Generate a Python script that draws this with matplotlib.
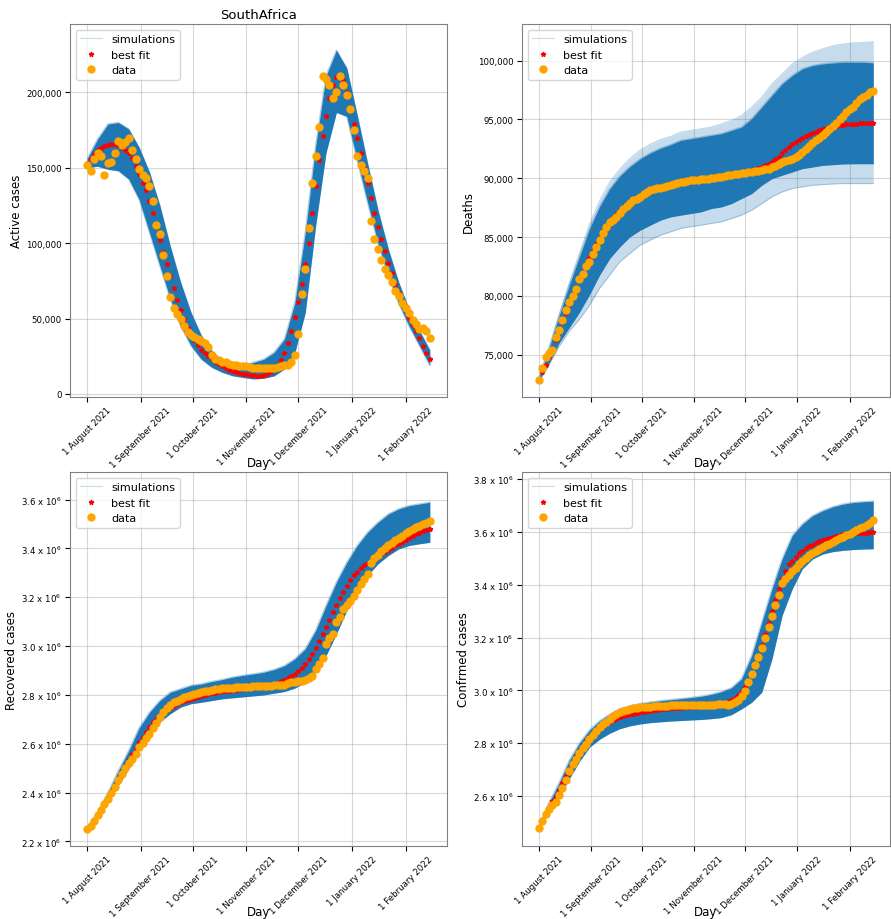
import numpy as np
import matplotlib
matplotlib.use("Agg")
import matplotlib.pyplot as plt
from matplotlib.lines import Line2D
from matplotlib.ticker import FuncFormatter

# observations every 2nd day, simulation envelope every 6th day, from 1 August 2021
start = np.datetime64("2021-08-01")
obs_days = np.arange(0, 199, 2)
sim_days = np.arange(0, 199, 6)
obs_dates = start + obs_days.astype("timedelta64[D]")
sim_dates = start + sim_days.astype("timedelta64[D]")

tick_dates = np.array(["2021-08-01", "2021-09-01", "2021-10-01", "2021-11-01",
                       "2021-12-01", "2022-01-01", "2022-02-01"], dtype="datetime64[D]")
tick_labels = ["1 August 2021", "1 September 2021", "1 October 2021", "1 November 2021",
               "1 December 2021", "1 January 2022", "1 February 2022"]

# active cases, thousands
active_data = [152, 148, 156, 160, 158, 145, 153, 154, 160, 168,
               165, 167, 170, 162, 156, 149, 145, 143, 138, 128,
               112, 106, 92, 78, 64, 57, 53, 50, 45, 41,
               39, 37.5, 36.5, 35, 33.5, 31, 26, 23, 22.5, 21.5,
               21, 20, 19.5, 19, 18.8, 18.8, 18.5, 18, 17, 17,
               17, 17, 17, 17.2, 17.5, 18, 18.8, 19, 19.5, 21,
               26, 40, 66, 83, 110, 140, 158, 177, 211, 209,
               205, 196, 200, 211, 205, 198, 189, 175, 158, 152,
               148, 143, 115, 103, 96, 89, 83, 79, 74, 68,
               65, 60, 57, 54, 49, 46.5, 43, 44, 42, 37]
active_fit = [153, 156, 159, 161.5, 163, 164.5, 165, 165.5, 165.5, 165,
              163, 161.5, 159.5, 156.5, 151, 146, 140, 135, 128, 120,
              111, 102, 94, 86, 78, 70, 62, 56, 50, 44,
              40, 36, 32.5, 29, 27, 25.5, 23.5, 21.5, 20, 18.8,
              17, 16, 15.2, 14.5, 13.9, 13.4, 13, 12.6, 12.3, 12.1,
              12.2, 12.7, 13.5, 14.8, 16.5, 19, 22.5, 27.5, 34, 42,
              51, 61, 73, 86, 100, 120, 138, 155, 171, 184,
              196, 205, 210, 211, 208, 200, 190, 179, 170, 160,
              150, 140, 130, 120, 111, 103, 95, 87, 80, 73,
              67, 61, 55.5, 50.5, 46, 42, 37, 32, 27.5, 23]
active_sim_lo = [150, 151, 149, 148, 142.5, 129, 107, 85, 63, 45, 32, 23, 17.7, 14.4, 12.1, 11, 10,
                 10.4, 12, 16.6, 27.6, 54, 111.6, 160, 186.7, 184, 155, 127, 100, 78, 60, 45, 32, 19]
active_sim_hi = [156, 169, 179, 180, 175.7, 163.5, 147, 125, 98, 74, 54, 38.7, 28.7, 22, 18.8, 18.8, 21,
                 23, 27.6, 36.5, 60.8, 107, 164.6, 211, 228, 216, 185, 153, 122, 96, 74, 56, 42, 29]

# deaths
deaths_data = [72880, 73870, 74800, 75120, 75450, 76500, 77150, 78000, 78800, 79450,
               80000, 80600, 81450, 81900, 82550, 82900, 83600, 84170, 84750, 85320,
               85890, 86250, 86470, 86750, 87050, 87380, 87650, 87900, 88130, 88230,
               88380, 88700, 88850, 88990, 89060, 89140, 89210, 89300, 89360, 89420,
               89510, 89570, 89650, 89710, 89760, 89830, 89850, 89880, 89910, 89940,
               89960, 90010, 90060, 90110, 90150, 90200, 90260, 90310, 90350, 90400,
               90450, 90490, 90520, 90560, 90600, 90650, 90700, 90750, 90810, 90920,
               91050, 91200, 91350, 91450, 91560, 91680, 91800, 91980, 92200, 92500,
               92750, 92980, 93220, 93450, 93700, 93950, 94200, 94450, 94720, 95000,
               95300, 95600, 95850, 96100, 96400, 96700, 96920, 97100, 97300, 97460]
deaths_fit = [72900, 73500, 74150, 74850, 75550, 76300, 77050, 77800, 78550, 79300,
              80000, 80700, 81350, 82000, 82650, 83250, 83850, 84400, 84950, 85450,
              85900, 86300, 86650, 86950, 87250, 87500, 87750, 87950, 88150, 88330,
              88500, 88650, 88790, 88910, 89020, 89120, 89210, 89290, 89370, 89440,
              89510, 89570, 89630, 89690, 89740, 89790, 89840, 89880, 89920, 89960,
              90000, 90040, 90080, 90120, 90160, 90200, 90250, 90300, 90350, 90410,
              90470, 90520, 90600, 90680, 90780, 90880, 90990, 91100, 91230, 91400,
              91600, 91850, 92150, 92400, 92650, 92880, 93080, 93260, 93420, 93580,
              93720, 93850, 93970, 94080, 94180, 94270, 94350, 94420, 94480, 94530,
              94570, 94600, 94620, 94640, 94650, 94660, 94670, 94680, 94690, 94690]
deaths_sim_lo = [72800, 74300, 76000, 77300, 78600, 80100, 81780, 83190, 84180, 85030, 85590, 86020,
                 86440, 86720, 86870, 87010, 87150, 87430, 87570, 87850, 88280, 88700, 89410, 89970,
                 90260, 90540, 90820, 90960, 91100, 91160, 91220, 91240, 91240, 91240]
deaths_sim_hi = [73000, 75500, 78300, 80900, 83300, 85700, 87600, 89100, 90200, 91000, 91650, 92150,
                 92550, 92850, 93220, 93360, 93500, 93650, 93790, 94070, 94350, 95060, 96050, 97040,
                 98020, 98730, 99300, 99580, 99720, 99800, 99860, 99860, 99860, 99800]
deaths_sim_min = [72700, 74100, 75700, 77000, 78000, 79200, 80650, 81780, 82910, 83620, 84320, 84750,
                  85170, 85450, 85740, 85880, 86020, 86160, 86300, 86580, 86870, 87290, 87850, 88420,
                  88840, 89130, 89270, 89410, 89460, 89520, 89550, 89550, 89550, 89550]
deaths_sim_max = [73050, 75600, 78400, 81100, 83600, 86100, 88100, 89700, 90800, 91700, 92400, 92900,
                  93300, 93550, 93930, 94070, 94210, 94350, 94630, 94920, 95340, 96050, 96890, 98020,
                  98870, 99720, 100280, 100710, 100990, 101270, 101410, 101500, 101550, 101610]

# recovered cases, millions
recovered_data = [2.250, 2.262, 2.282, 2.307, 2.330, 2.352, 2.375, 2.398, 2.422, 2.450,
                  2.478, 2.500, 2.521, 2.539, 2.557, 2.585, 2.605, 2.625, 2.640, 2.665,
                  2.686, 2.710, 2.730, 2.748, 2.760, 2.769, 2.777, 2.784, 2.790, 2.795,
                  2.800, 2.804, 2.808, 2.811, 2.815, 2.818, 2.821, 2.823, 2.826, 2.828,
                  2.829, 2.829, 2.830, 2.831, 2.832, 2.833, 2.833, 2.834, 2.835, 2.836,
                  2.836, 2.837, 2.838, 2.838, 2.839, 2.839, 2.840, 2.842, 2.847, 2.851,
                  2.853, 2.856, 2.858, 2.862, 2.869, 2.877, 2.905, 2.925, 2.950, 3.010,
                  3.035, 3.050, 3.098, 3.120, 3.150, 3.170, 3.186, 3.207, 3.230, 3.255,
                  3.275, 3.295, 3.340, 3.360, 3.375, 3.388, 3.400, 3.412, 3.423, 3.433,
                  3.443, 3.452, 3.462, 3.471, 3.479, 3.486, 3.493, 3.499, 3.505, 3.511]
recovered_fit = [2.250, 2.265, 2.285, 2.308, 2.332, 2.356, 2.381, 2.406, 2.432, 2.458,
                 2.484, 2.510, 2.535, 2.560, 2.584, 2.607, 2.629, 2.650, 2.669, 2.687,
                 2.702, 2.715, 2.727, 2.737, 2.746, 2.755, 2.762, 2.769, 2.775, 2.780,
                 2.785, 2.789, 2.793, 2.797, 2.800, 2.803, 2.806, 2.809, 2.812, 2.814,
                 2.816, 2.818, 2.820, 2.822, 2.824, 2.826, 2.828, 2.830, 2.832, 2.834,
                 2.836, 2.838, 2.840, 2.843, 2.846, 2.850, 2.855, 2.861, 2.868, 2.876,
                 2.885, 2.896, 2.910, 2.926, 2.945, 2.967, 2.992, 3.019, 3.048, 3.078,
                 3.108, 3.138, 3.167, 3.195, 3.222, 3.247, 3.270, 3.291, 3.305, 3.318,
                 3.330, 3.340, 3.349, 3.358, 3.367, 3.376, 3.385, 3.394, 3.403, 3.412,
                 3.420, 3.428, 3.436, 3.443, 3.450, 3.457, 3.464, 3.470, 3.475, 3.480]
recovered_sim_lo = [2.245, 2.295, 2.360, 2.430, 2.497, 2.575, 2.634, 2.689, 2.723, 2.750, 2.764, 2.770,
                    2.777, 2.784, 2.788, 2.792, 2.796, 2.800, 2.807, 2.814, 2.828, 2.852, 2.893, 2.961,
                    3.050, 3.146, 3.221, 3.289, 3.337, 3.371, 3.398, 3.412, 3.419, 3.425]
recovered_sim_hi = [2.255, 2.320, 2.400, 2.490, 2.572, 2.665, 2.729, 2.777, 2.811, 2.825, 2.839, 2.845,
                    2.855, 2.863, 2.873, 2.880, 2.886, 2.893, 2.904, 2.920, 2.948, 2.989, 3.064, 3.166,
                    3.262, 3.343, 3.412, 3.466, 3.507, 3.541, 3.562, 3.575, 3.582, 3.589]

# confirmed cases, millions
confirmed_data = [2.479, 2.505, 2.531, 2.550, 2.565, 2.577, 2.603, 2.629, 2.662, 2.694,
                  2.720, 2.739, 2.764, 2.783, 2.797, 2.817, 2.833, 2.848, 2.861, 2.872,
                  2.882, 2.892, 2.902, 2.910, 2.917, 2.923, 2.927, 2.930, 2.933, 2.935,
                  2.936, 2.937, 2.938, 2.939, 2.940, 2.940, 2.941, 2.942, 2.942, 2.943,
                  2.943, 2.943, 2.943, 2.943, 2.944, 2.944, 2.944, 2.944, 2.945, 2.945,
                  2.945, 2.946, 2.946, 2.947, 2.947, 2.947, 2.946, 2.947, 2.955, 2.965,
                  2.977, 2.998, 3.030, 3.062, 3.095, 3.128, 3.162, 3.200, 3.239, 3.283,
                  3.322, 3.362, 3.405, 3.423, 3.438, 3.452, 3.465, 3.477, 3.489, 3.501,
                  3.512, 3.520, 3.527, 3.535, 3.543, 3.549, 3.555, 3.562, 3.568, 3.575,
                  3.581, 3.587, 3.593, 3.598, 3.606, 3.613, 3.620, 3.627, 3.635, 3.646]
confirmed_fit = [2.480, 2.508, 2.537, 2.560, 2.580, 2.600, 2.624, 2.650, 2.676, 2.702,
                 2.727, 2.750, 2.771, 2.790, 2.807, 2.822, 2.835, 2.847, 2.857, 2.866,
                 2.874, 2.881, 2.887, 2.893, 2.898, 2.902, 2.906, 2.909, 2.912, 2.915,
                 2.917, 2.919, 2.921, 2.923, 2.925, 2.927, 2.928, 2.929, 2.931, 2.932,
                 2.933, 2.934, 2.935, 2.936, 2.937, 2.938, 2.939, 2.940, 2.941, 2.942,
                 2.943, 2.944, 2.946, 2.948, 2.950, 2.953, 2.957, 2.963, 2.971, 2.982,
                 2.996, 3.014, 3.037, 3.064, 3.096, 3.131, 3.170, 3.212, 3.256, 3.300,
                 3.343, 3.383, 3.420, 3.451, 3.478, 3.490, 3.505, 3.518, 3.528, 3.537,
                 3.545, 3.552, 3.558, 3.564, 3.569, 3.574, 3.578, 3.582, 3.585, 3.588,
                 3.590, 3.592, 3.594, 3.595, 3.596, 3.597, 3.597, 3.597, 3.598, 3.598]
confirmed_sim_lo = [2.475, 2.540, 2.595, 2.665, 2.730, 2.785, 2.815, 2.838, 2.855, 2.866, 2.873, 2.878,
                    2.881, 2.884, 2.886, 2.888, 2.890, 2.893, 2.897, 2.908, 2.930, 2.955, 2.993, 3.119,
                    3.283, 3.384, 3.460, 3.497, 3.516, 3.525, 3.530, 3.533, 3.535, 3.536]
confirmed_sim_hi = [2.485, 2.575, 2.650, 2.735, 2.800, 2.850, 2.885, 2.910, 2.930, 2.942, 2.950, 2.956,
                    2.961, 2.965, 2.969, 2.973, 2.978, 2.985, 2.995, 3.010, 3.044, 3.132, 3.258, 3.384,
                    3.497, 3.586, 3.630, 3.661, 3.680, 3.695, 3.705, 3.711, 3.714, 3.716]

SIM_BLUE = "#1f77b4"


def comma_fmt(v, pos):
    return "{:,.0f}".format(v)


def mega_fmt(v, pos):
    return "{:.1f} x $10^6$".format(v / 1e6)


def draw_panel(ax, scale, data, fit, lo, hi, ylabel, ylim, yticks, fmt,
               sim_min=None, sim_max=None, title=None):
    ax.set_axisbelow(True)
    ax.grid(True, color="#b0b0b0", linewidth=0.8, alpha=0.5)

    # faint outer spread of the simulations
    if sim_min is not None:
        smin = np.array(sim_min) * scale
        smax = np.array(sim_max) * scale
        ax.fill_between(sim_dates, smin, smax, color=SIM_BLUE, alpha=0.25, linewidth=0)
        ax.plot(sim_dates, smin, color=SIM_BLUE, alpha=0.3, linewidth=0.7)
        ax.plot(sim_dates, smax, color=SIM_BLUE, alpha=0.3, linewidth=0.7)

    # dense core of the simulations
    lo = np.array(lo) * scale
    hi = np.array(hi) * scale
    ax.fill_between(sim_dates, lo, hi, color=SIM_BLUE, linewidth=0)
    ax.plot(sim_dates, lo, color=SIM_BLUE, alpha=0.35, linewidth=1.0)
    ax.plot(sim_dates, hi, color=SIM_BLUE, alpha=0.35, linewidth=1.0)

    ax.plot(obs_dates, np.array(fit) * scale, "*", color="red", markersize=3.5, label="best fit")
    ax.plot(obs_dates, np.array(data) * scale, "o", color="orange", markersize=5, label="data")

    ax.set_ylim(*ylim)
    ax.set_yticks(yticks)
    ax.yaxis.set_major_formatter(FuncFormatter(fmt))
    ax.set_xticks(tick_dates)
    ax.set_xticklabels(tick_labels, rotation=45)
    ax.tick_params(labelsize=6.2, pad=2.5)
    ax.set_xlabel("Day", fontsize=8.5)
    ax.xaxis.set_label_coords(0.5, -0.158)
    ax.set_ylabel(ylabel, fontsize=8.5, labelpad=2)
    for sp in ax.spines.values():
        sp.set_color("#808080")
    if title:
        ax.set_title(title, fontsize=9.5, pad=4)

    handles = [Line2D([], [], color=SIM_BLUE, alpha=0.25, linewidth=0.8),
               Line2D([], [], linestyle="none", marker="*", color="red", markersize=3.5),
               Line2D([], [], linestyle="none", marker="o", color="orange", markersize=5)]
    ax.legend(handles, ["simulations", "best fit", "data"], loc="upper left", fontsize=8)


fig = plt.figure(figsize=(8.91, 9.2), dpi=100)
ax1 = fig.add_axes([0.0786, 0.5674, 0.4231, 0.4054])
ax2 = fig.add_axes([0.5859, 0.5674, 0.4130, 0.4054])
ax3 = fig.add_axes([0.0786, 0.0793, 0.4231, 0.4066])
ax4 = fig.add_axes([0.5859, 0.0793, 0.4130, 0.4066])
# keep the upper "Day" labels above the lower panels
ax1.set_zorder(2)
ax2.set_zorder(2)

draw_panel(ax1, 1e3, active_data, active_fit, active_sim_lo, active_sim_hi, "Active cases",
           (-2000, 245300), np.arange(0, 200001, 50000), comma_fmt, title="SouthAfrica")
draw_panel(ax2, 1, deaths_data, deaths_fit, deaths_sim_lo, deaths_sim_hi, "Deaths",
           (71415, 103110), np.arange(75000, 100001, 5000), comma_fmt,
           sim_min=deaths_sim_min, sim_max=deaths_sim_max)
draw_panel(ax3, 1e6, recovered_data, recovered_fit, recovered_sim_lo, recovered_sim_hi,
           "Recovered cases", (2.181e6, 3.713e6), np.arange(2.2e6, 3.61e6, 0.2e6), mega_fmt)
draw_panel(ax4, 1e6, confirmed_data, confirmed_fit, confirmed_sim_lo, confirmed_sim_hi,
           "Confrmed cases", (2.411e6, 3.8265e6), np.arange(2.6e6, 3.81e6, 0.2e6), mega_fmt)

fig.savefig("out.png", dpi=100)
